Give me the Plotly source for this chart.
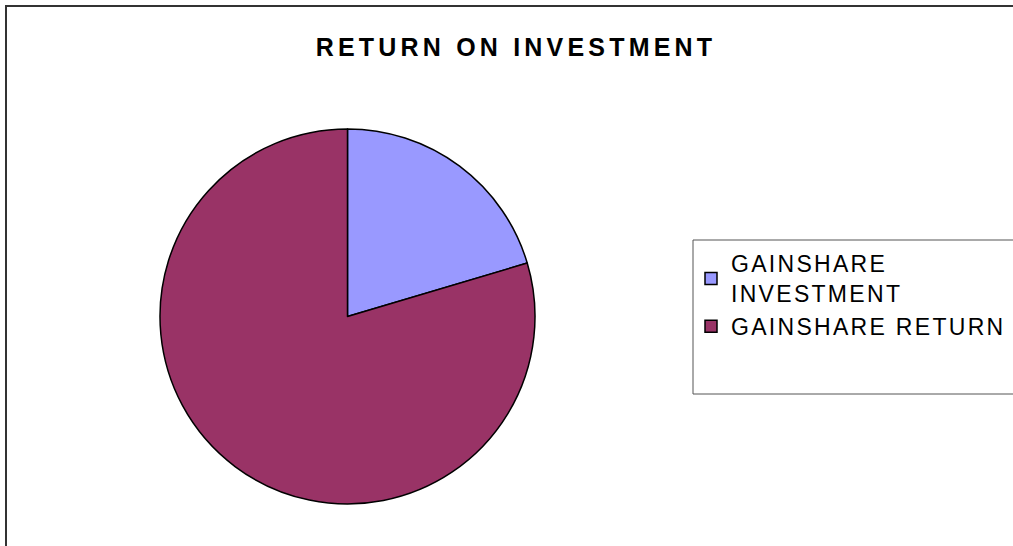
import plotly.graph_objects as go

labels = ["GAINSHARE<br>INVESTMENT", "GAINSHARE RETURN"]
values = [20.4, 79.6]
colors = ["#9999FF", "#993366"]
title_text = "RETURN ON INVESTMENT"

W, H = 1013, 546

def px(x):
    return x / W

def py(y):
    return 1 - y / H

fig = go.Figure(
    go.Pie(
        labels=labels,
        values=values,
        sort=False,
        direction="clockwise",
        rotation=0,
        textinfo="none",
        hoverinfo="label+value",
        marker=dict(colors=colors, line=dict(color="#000000", width=1.5)),
        domain=dict(x=[px(159), px(536)], y=[py(504), py(129)]),
    )
)

fig.update_layout(
    width=W,
    height=H,
    margin=dict(l=0, r=0, t=0, b=0),
    paper_bgcolor="#FFFFFF",
    plot_bgcolor="#FFFFFF",
    font=dict(family="Liberation Sans, Arial, sans-serif", color="#000000"),
    title=dict(
        text="<b>" + title_text + "</b>",
        x=px(516), xanchor="center",
        y=py(47), yanchor="middle",
        font=dict(size=25, family="Liberation Sans, Arial, sans-serif", color="#000000"),
    ),
    showlegend=True,
    legend=dict(
        x=px(691), xanchor="left",
        y=py(242), yanchor="top",
        bgcolor="rgba(0,0,0,0)",
        borderwidth=0,
        font=dict(size=23, family="Liberation Sans, Arial, sans-serif", color="#000000"),
        traceorder="normal",
    ),
    shapes=[
        dict(type="rect", xref="paper", yref="paper",
             x0=px(6), x1=px(1030), y0=py(560), y1=py(6),
             line=dict(color="#333333", width=2), fillcolor="rgba(0,0,0,0)", layer="below"),
        dict(type="rect", xref="paper", yref="paper",
             x0=px(693), x1=px(1030), y0=py(394), y1=py(240),
             line=dict(color="#555555", width=1), fillcolor="rgba(0,0,0,0)", layer="below"),
    ],
)

post_script = """
document.body.style.margin = '0';
var gd = document.getElementById('{plot_id}');
gd.querySelectorAll('.gtitle').forEach(function(t){ t.style.letterSpacing = '4.2px'; });
gd.querySelectorAll('.legendtext').forEach(function(t){ t.style.letterSpacing = '2.3px'; });
gd.querySelectorAll('.legend [clip-path]').forEach(function(e){ e.removeAttribute('clip-path'); });
gd.querySelectorAll('.legend').forEach(function(e){ e.removeAttribute('clip-path'); });
"""

fig.write_html("out.html", post_script=post_script, config={"displayModeBar": False})
